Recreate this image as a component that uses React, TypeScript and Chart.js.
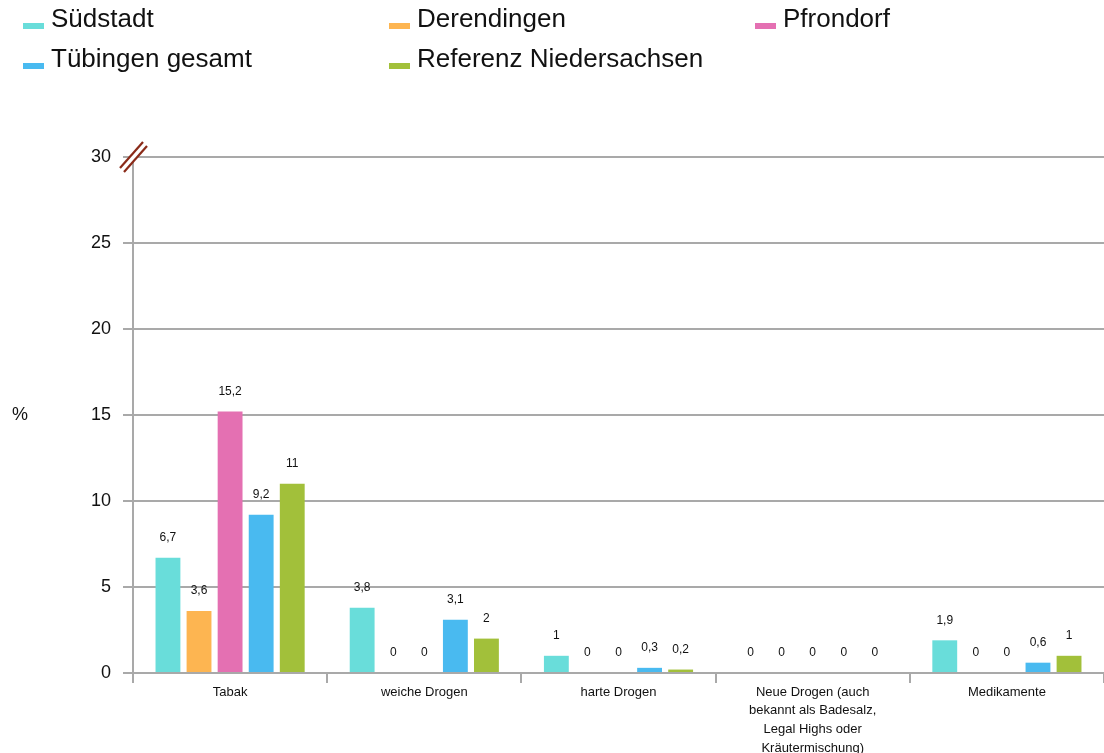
import React, { useEffect, useRef } from "react";
import { Chart, registerables } from "chart.js";

Chart.register(...registerables);

const categories: (string | string[])[] = [
  "Tabak",
  "weiche Drogen",
  "harte Drogen",
  ["Neue Drogen (auch", "bekannt als Badesalz,", "Legal Highs oder", "Kräutermischung)"],
  "Medikamente",
];

const seriesNames = ["Südstadt", "Derendingen", "Pfrondorf", "Tübingen gesamt", "Referenz Niedersachsen"];
const seriesColors = ["#69ddda", "#fdb551", "#e470b2", "#49baf0", "#a2c03a"];

const suedstadt = [6.7, 3.8, 1, 0, 1.9];
const derendingen = [3.6, 0, 0, 0, 0];
const pfrondorf = [15.2, 0, 0, 0, 0];
const tuebingen = [9.2, 3.1, 0.3, 0, 0.6];
const niedersachsen = [11, 2, 0.2, 0, 1];

const seriesValues = [suedstadt, derendingen, pfrondorf, tuebingen, niedersachsen];

const yTicks = [0, 5, 10, 15, 20, 25, 30];

const FONT = '"Liberation Sans", Arial, Helvetica, sans-serif';
const GRID = "#a9a9a9";
const TEXT = "#111111";

const legendPositions = [
  { x: 23, y: 20 },
  { x: 389, y: 20 },
  { x: 755, y: 20 },
  { x: 23, y: 60 },
  { x: 389, y: 60 },
];

const extrasPlugin = {
  id: "extras",
  afterDatasetsDraw(chart: any) {
    const ctx = chart.ctx;
    ctx.save();
    ctx.font = `12px ${FONT}`;
    ctx.fillStyle = TEXT;
    ctx.textAlign = "center";
    ctx.textBaseline = "middle";
    chart.data.datasets.forEach((ds: any, i: number) => {
      const meta = chart.getDatasetMeta(i);
      meta.data.forEach((bar: any, j: number) => {
        const v = ds.data[j];
        ctx.fillText(String(v).replace(".", ","), bar.x, bar.y - 20);
      });
    });
    ctx.restore();
  },
  afterDraw(chart: any) {
    const ctx = chart.ctx;
    const area = chart.chartArea;
    ctx.save();
    // legend
    ctx.font = `26px ${FONT}`;
    ctx.textAlign = "left";
    ctx.textBaseline = "middle";
    seriesNames.forEach((name, i) => {
      const p = legendPositions[i];
      ctx.fillStyle = seriesColors[i];
      ctx.fillRect(p.x, p.y + 3, 21, 6);
      ctx.fillStyle = TEXT;
      ctx.fillText(name, p.x + 28, p.y);
    });
    // y-axis title
    ctx.font = `18px ${FONT}`;
    ctx.textAlign = "center";
    ctx.fillText("%", 20, 415);
    // axis break symbol
    const x0 = area.left;
    const y0 = area.top;
    ctx.lineCap = "butt";
    ctx.strokeStyle = "#ffffff";
    ctx.lineWidth = 5;
    ctx.beginPath();
    ctx.moveTo(x0 - 11, y0 + 13);
    ctx.lineTo(x0 + 12, y0 - 13);
    ctx.stroke();
    ctx.strokeStyle = "#8a2a18";
    ctx.lineWidth = 2.2;
    [[-2, -2], [2, 2]].forEach(([dx, dy]) => {
      ctx.beginPath();
      ctx.moveTo(x0 - 11 + dx, y0 + 13 + dy);
      ctx.lineTo(x0 + 12 + dx, y0 - 13 + dy);
      ctx.stroke();
    });
    ctx.restore();
  },
};

export default function App() {
  const canvasRef = useRef<HTMLCanvasElement | null>(null);

  useEffect(() => {
    document.body.style.margin = "0";
    const canvas = canvasRef.current;
    if (!canvas) return;
    const chart = new Chart(canvas, {
      type: "bar",
      data: {
        labels: categories,
        datasets: seriesNames.map((name, i) => ({
          label: name,
          data: seriesValues[i],
          backgroundColor: seriesColors[i],
          borderWidth: 0,
          barPercentage: 0.8,
          categoryPercentage: 0.8,
        })),
      },
      options: {
        responsive: false,
        animation: false,
        layout: { padding: { top: 157, left: 0, right: 0, bottom: 0 } },
        plugins: {
          legend: { display: false },
          tooltip: { enabled: false },
          title: { display: false },
        },
        scales: {
          x: {
            grid: {
              offset: true,
              drawOnChartArea: false,
              drawTicks: true,
              tickLength: 10,
              color: GRID,
              lineWidth: 2,
            },
            border: { color: GRID, width: 2 },
            ticks: {
              font: { size: 13, family: FONT, lineHeight: 1.43 },
              color: TEXT,
              padding: 0,
              maxRotation: 0,
              autoSkip: false,
            },
            afterFit(scale: any) {
              scale.height = 80;
            },
          },
          y: {
            min: 0,
            max: 30,
            afterBuildTicks(scale: any) {
              scale.ticks = yTicks.map((v) => ({ value: v }));
            },
            grid: { color: GRID, lineWidth: 2, tickLength: 10 },
            border: { color: GRID, width: 2 },
            ticks: {
              font: { size: 18, family: FONT },
              color: TEXT,
              padding: 12,
            },
            afterFit(scale: any) {
              scale.width = 133;
            },
          },
        },
      },
      plugins: [extrasPlugin],
    } as any);
    return () => chart.destroy();
  }, []);

  return (
    <div style={{ width: 1104, height: 753 }}>
      <canvas ref={canvasRef} width={1104} height={753} style={{ display: "block" }} />
    </div>
  );
}
